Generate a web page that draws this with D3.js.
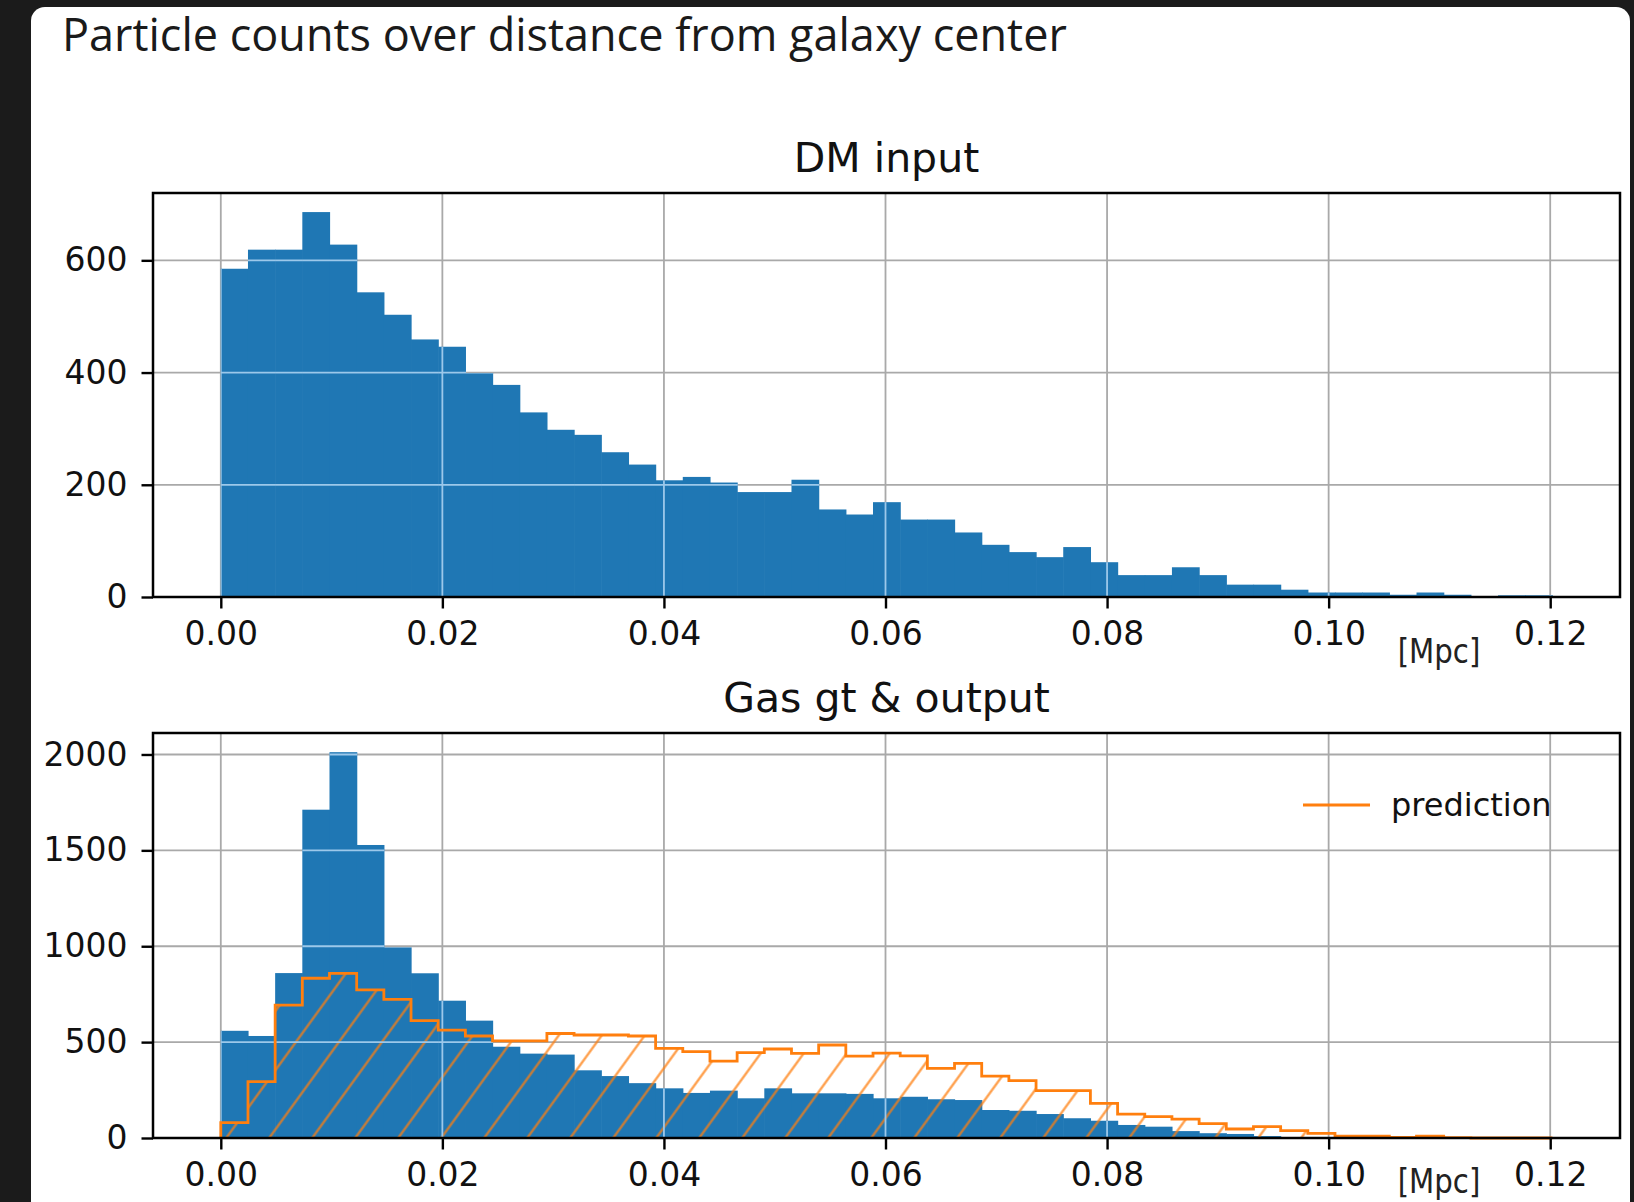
<!DOCTYPE html>
<html>
<head>
<meta charset="utf-8">
<script src="https://cdn.jsdelivr.net/npm/d3@7"></script>
<style>
  body { margin: 0; background: #1b1b1b; }
  svg { display: block; }
</style>
</head>
<body>
<div id="chart"></div>
<script>
const W = 1634, H = 1202;

// histogram bins, 49 equal bins from 0 [Mpc]
const binWidth = 0.002453;
const nBins = 49;

// DM input counts per bin
const dmCounts = [585, 619, 619, 686, 628, 543, 503, 459, 446, 399,
                  378, 329, 298, 289, 258, 236, 208, 214, 204, 187,
                  187, 209, 156, 147, 169, 138, 138, 115, 93, 80,
                  71, 89, 62, 39, 39, 53, 39, 22, 22, 13,
                  8, 8, 8, 4, 8, 4, 0, 3, 3];

// gas ground truth counts per bin
const gasCounts = [559, 532, 860, 1712, 2012, 1528, 994, 859, 716, 612,
                   476, 440, 435, 353, 323, 286, 259, 235, 247, 207,
                   259, 233, 233, 230, 207, 215, 202, 198, 146, 142,
                   125, 103, 90, 68, 59, 36, 25, 21, 10, 4,
                   2, 1, 0, 0, 1, 0, 0, 0, 0];

// gas prediction counts per bin
const predCounts = [80, 294, 693, 833, 859, 772, 723, 612, 563, 532,
                    507, 507, 545, 537, 537, 532, 467, 450, 401, 445,
                    464, 441, 485, 427, 443, 428, 363, 389, 323, 299,
                    247, 247, 181, 125, 111, 98, 75, 47, 59, 38,
                    24, 10, 10, 3, 10, 2, 0, 0, 0];

const xTicks = [0, 0.02, 0.04, 0.06, 0.08, 0.10, 0.12];
const dmYTicks = [0, 200, 400, 600];
const gasYTicks = [0, 500, 1000, 1500, 2000];

const BLUE = '#1f77b4', ORANGE = '#ff7f0e';
const FONT = 'DejaVu Sans';

const svg = d3.select('#chart').append('svg')
    .attr('width', W)
    .attr('height', H);

svg.append('rect').attr('width', W).attr('height', H).attr('fill', '#1b1b1b');
// white card
svg.append('rect')
    .attr('x', 31).attr('y', 7)
    .attr('width', 1599).attr('height', 1210)
    .attr('rx', 14)
    .attr('fill', '#fff');

const title = svg.append('text')
    .attr('x', 62).attr('y', 51)
    .attr('font-family', 'Open Sans')
    .attr('font-size', 36)
    .attr('fill', '#1a1a1a')
    .text('Particle counts over distance from galaxy center');
// fit title to the width seen in the screenshot
const tl = title.node().getComputedTextLength();
title.attr('font-size', 36 * 1005 / tl);

const defs = svg.append('defs');
const hatch = defs.append('pattern')
    .attr('id', 'hatch')
    .attr('patternUnits', 'userSpaceOnUse')
    .attr('width', 43).attr('height', 40)
    .attr('patternTransform', 'skewX(-36)');
hatch.append('line')
    .attr('x1', 21).attr('y1', -2).attr('x2', 21).attr('y2', 42)
    .attr('stroke', ORANGE).attr('stroke-width', 3).attr('stroke-opacity', 0.72);

const edges = d3.range(nBins + 1).map(i => i * binWidth);

const x = d3.scaleLinear().domain([-0.00612, 0.1263]).range([153, 1620]);

function drawPanel(cfg) {
    const { id, top, bottom, yMax, counts, pred, yTicks, label } = cfg;
    const y = d3.scaleLinear().domain([0, yMax]).range([bottom, top]);
    const g = svg.append('g');

    const bins = counts.map((c, i) => ({ x0: edges[i], x1: edges[i + 1], c }))
        .filter(d => d.c > 0);

    const drawGrid = (sel, color) => {
        sel.selectAll('.vg').data(xTicks).enter().append('line')
            .attr('x1', d => x(d)).attr('x2', d => x(d))
            .attr('y1', top).attr('y2', bottom)
            .attr('stroke', color).attr('stroke-width', 1.8);
        sel.selectAll('.hg').data(yTicks).enter().append('line')
            .attr('x1', 153).attr('x2', 1620)
            .attr('y1', d => y(d)).attr('y2', d => y(d))
            .attr('stroke', color).attr('stroke-width', 1.8);
    };
    drawGrid(g.append('g'), '#a9a9a9');

    g.append('g').selectAll('rect').data(bins).enter().append('rect')
        .attr('x', d => x(d.x0))
        .attr('width', d => x(d.x1) - x(d.x0) + 0.6)
        .attr('y', d => y(d.c))
        .attr('height', d => y(0) - y(d.c))
        .attr('fill', BLUE);

    // clip for the light grid over the bars
    const clip = defs.append('clipPath').attr('id', 'clip-' + id);
    clip.selectAll('rect').data(bins).enter().append('rect')
        .attr('x', d => x(d.x0))
        .attr('width', d => x(d.x1) - x(d.x0) + 0.6)
        .attr('y', d => y(d.c))
        .attr('height', d => y(0) - y(d.c));

    let pts = null;
    const line = d3.line().x(d => x(d[0])).y(d => y(d[1]));
    if (pred) {
        pts = [[edges[0], 0]];
        pred.forEach((c, i) => { pts.push([edges[i], c]); pts.push([edges[i + 1], c]); });
        pts.push([edges[nBins], 0]);
        g.append('path')
            .attr('d', line(pts) + 'Z')
            .attr('fill', 'url(#hatch)')
            .attr('stroke', 'none');
    }

    drawGrid(g.append('g').attr('clip-path', `url(#clip-${id})`), '#9cc8ea');

    if (pred) {
        g.append('path')
            .attr('d', line(pts))
            .attr('fill', 'none')
            .attr('stroke', ORANGE)
            .attr('stroke-width', 2.8)
            .attr('stroke-linejoin', 'miter');
    }

    // axes
    const xa = g.append('g').attr('transform', `translate(0,${bottom})`)
        .call(d3.axisBottom(x).tickValues(xTicks).tickFormat(d3.format('.2f'))
            .tickSize(11.5).tickPadding(13));
    const ya = g.append('g').attr('transform', 'translate(153,0)')
        .call(d3.axisLeft(y).tickValues(yTicks).tickFormat(d3.format('d'))
            .tickSize(11.5).tickPadding(14));
    [xa, ya].forEach(a => {
        a.select('.domain').remove();
        a.selectAll('line').attr('stroke', '#000').attr('stroke-width', 2.4);
        a.selectAll('text').attr('font-family', FONT).attr('font-size', 33).attr('fill', '#111');
    });

    g.append('rect')
        .attr('x', 153).attr('y', top)
        .attr('width', 1620 - 153).attr('height', bottom - top)
        .attr('fill', 'none').attr('stroke', '#000').attr('stroke-width', 2.5);

    g.append('text')
        .attr('x', (153 + 1620) / 2).attr('y', top - 21)
        .attr('text-anchor', 'middle')
        .attr('font-family', FONT).attr('font-size', 41).attr('fill', '#111')
        .text(label);

    // unit label, a little narrower than the tick font
    g.append('text')
        .attr('transform', `translate(1439,${cfg.mpcY}) scale(0.86,1)`)
        .attr('text-anchor', 'middle')
        .attr('font-family', FONT).attr('font-size', 34).attr('fill', '#222')
        .text('[Mpc]');

    if (pred) {
        g.append('line')
            .attr('x1', 1303).attr('x2', 1370)
            .attr('y1', top + 72).attr('y2', top + 72)
            .attr('stroke', ORANGE).attr('stroke-width', 3.2);
        g.append('text')
            .attr('x', 1391).attr('y', top + 72)
            .attr('dy', '0.35em')
            .attr('font-family', FONT).attr('font-size', 32).attr('fill', '#111')
            .text('prediction');
    }
}

drawPanel({ id: 'dm', top: 193, bottom: 597, yMax: 720, counts: dmCounts,
            yTicks: dmYTicks, label: 'DM input', mpcY: 663 });
drawPanel({ id: 'gas', top: 733, bottom: 1138, yMax: 2112, counts: gasCounts,
            pred: predCounts, yTicks: gasYTicks, label: 'Gas gt & output', mpcY: 1193 });
</script>
</body>
</html>
